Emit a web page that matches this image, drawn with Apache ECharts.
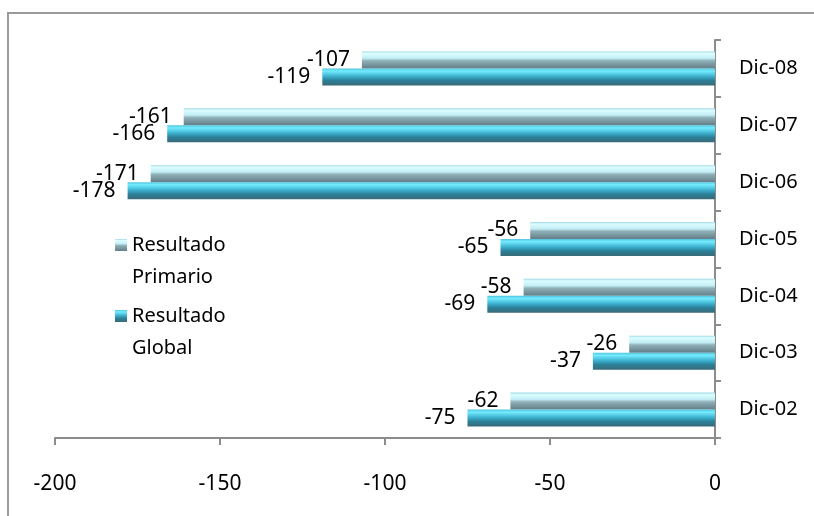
<!DOCTYPE html>
<html>
<head>
<meta charset="utf-8">
<script src="https://cdn.jsdelivr.net/npm/echarts@6/dist/echarts.min.js"></script>
<style>
html,body{margin:0;padding:0;background:#fff;}
#main{width:814px;height:516px;}
</style>
</head>
<body>
<div id="main"></div>
<script>
const categories = ['Dic-02','Dic-03','Dic-04','Dic-05','Dic-06','Dic-07','Dic-08'];
const primario = [-62, -26, -58, -56, -171, -161, -107];
const global = [-75, -37, -69, -65, -178, -166, -119];
const xTicks = { min: -200, max: 0, interval: 50 };
const names = ['Resultado Primario', 'Resultado Global'];

const FONT = 'Noto Sans';
const chart = echarts.init(document.getElementById('main'));

const gradPrim = new echarts.graphic.LinearGradient(0, 0, 0, 1, [
  { offset: 0, color: '#9fd9e6' },
  { offset: 0.12, color: '#dcfdff' },
  { offset: 0.4, color: '#c2eef6' },
  { offset: 0.55, color: '#8fb0b8' },
  { offset: 1, color: '#637d86' }
]);
const gradGlob = new echarts.graphic.LinearGradient(0, 0, 0, 1, [
  { offset: 0, color: '#4fc3dc' },
  { offset: 0.15, color: '#74ecff' },
  { offset: 0.45, color: '#3fb4d2' },
  { offset: 0.7, color: '#2a8199' },
  { offset: 1, color: '#3a6a78' }
]);

const labelCfg = {
  show: true,
  position: 'left',
  distance: 12,
  fontFamily: FONT,
  fontSize: 21,
  color: '#000'
};

function legendFor(i, top) {
  const parts = names[i].split(' ');
  return {
    data: [names[i]],
    left: 115,
    top: top,
    orient: 'vertical',
    padding: 0,
    icon: 'rect',
    itemWidth: 12,
    itemHeight: 12,
    itemGap: 0,
    formatter: () => ' \n' + parts[0] + '\n' + parts[1],
    textStyle: {
      fontFamily: FONT,
      fontSize: 20,
      color: '#000',
      lineHeight: 32
    }
  };
}

chart.setOption({
  animation: false,
  backgroundColor: '#fff',
  graphic: [{
    type: 'rect',
    shape: { x: 8, y: 13, width: 830, height: 530 },
    style: { fill: 'none', stroke: '#9a9a9a', lineWidth: 2 },
    silent: true
  }],
  legend: [legendFor(0, 197), legendFor(1, 268)],
  grid: { left: 55, right: 99, top: 40, bottom: 78 },
  xAxis: {
    type: 'value',
    min: xTicks.min,
    max: xTicks.max,
    interval: xTicks.interval,
    position: 'bottom',
    splitLine: { show: false },
    axisLine: { show: true, lineStyle: { color: '#8c8c8c', width: 2 } },
    axisTick: { show: true, length: 7, lineStyle: { color: '#8c8c8c', width: 2 } },
    axisLabel: { margin: 36, fontFamily: FONT, fontSize: 21, color: '#000' }
  },
  yAxis: {
    type: 'category',
    data: categories,
    position: 'right',
    axisLine: { show: true, onZero: false, lineStyle: { color: '#8c8c8c', width: 2 } },
    axisTick: { show: true, length: 6, lineStyle: { color: '#8c8c8c', width: 2 } },
    axisLabel: { margin: 24, fontFamily: FONT, fontSize: 20, color: '#000' }
  },
  series: [
    {
      name: names[0],
      type: 'bar',
      data: primario,
      barWidth: 17,
      barGap: '0%',
      itemStyle: { color: gradPrim },
      label: labelCfg
    },
    {
      name: names[1],
      type: 'bar',
      data: global,
      barWidth: 17,
      barGap: '0%',
      itemStyle: { color: gradGlob },
      label: labelCfg
    }
  ]
});
</script>
</body>
</html>
